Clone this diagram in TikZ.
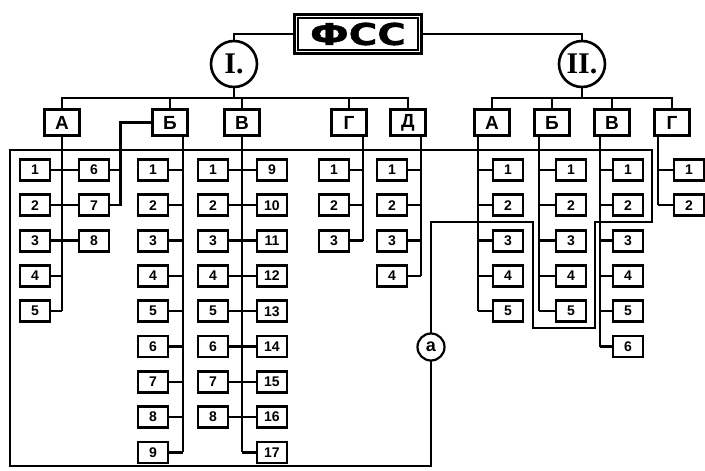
\documentclass[tikz,border=0pt]{standalone}
\usepackage{fontspec}
\setmainfont{Liberation Sans}
\newfontfamily\romfont{Liberation Serif}
\newfontfamily\headfont[FakeStretch=1.3, FakeBold=1.5]{DejaVu Sans}
\usepackage{tikz}
\usetikzlibrary{positioning}

\tikzset{
  wire/.style={line width=2.3pt},
  frame/.style={line width=2.6pt, line join=miter},
  sbox/.style={draw, line width=2.8pt, minimum width=30pt, minimum height=21pt,
               inner sep=0pt, font=\fontsize{14}{14}\selectfont\bfseries},
  lbox/.style={draw, line width=3.4pt, minimum width=35pt, minimum height=26pt,
               inner sep=0pt, font=\fontsize{19}{19}\selectfont\bfseries},
  grp/.style={draw, circle, line width=2.6pt, minimum size=46pt, inner sep=0pt,
              font=\romfont\fontsize{30}{30}\selectfont\bfseries},
}

\begin{document}
\begin{tikzpicture}[x=1pt, y=-1pt]
\useasboundingbox (0,0) rectangle (705,471);

% ================= outline of group a =================
\draw[frame] (10,150) -- (652,150) -- (652,222) -- (595,222) -- (595,328)
  -- (533,328) -- (533,222) -- (431,222) -- (431,466) -- (10,466) -- cycle;
\node[draw, circle, fill=white, line width=2.2pt, minimum size=27pt, inner sep=0pt,
      font=\fontsize{18}{18}\selectfont\bfseries] (ra) at (431,347) {а};

% ================= top =================
\node[draw, line width=2.8pt, minimum width=127pt, minimum height=39pt,
      font=\headfont\bfseries\fontsize{30}{30}\selectfont] (fss) at (358,34) {ФСС};
\draw[line width=1.4pt] ([shift={(5pt,-5pt)}]fss.north west)
  rectangle ([shift={(-5pt,5pt)}]fss.south east);
\node[grp] (I) at (234,64) {I.};
\node[grp] (II) at (582,64) {II.};
\draw[wire] (fss.west) -| (I.north);
\draw[wire] (fss.east) -| (II.north);

% ================= sections =================
\foreach \n/\x/\t in {IA/62/А, IB/170/Б, IV/242/В, IG/349/Г, ID/408/Д,
                      IIA/492/А, IIB/552/Б, IIV/612/В, IIG/672/Г}
  \node[lbox] (\n) at (\x,122.5) {\t};

\path (I.south) ++(0,10) coordinate (jI);
\draw[wire] (I.south) -- (jI);
\draw[wire] (IA.north) -- (IA.north |- jI) -- (ID.north |- jI) -- (ID.north);
\foreach \n in {IB,IV,IG}
  \draw[wire] (\n.north) -- (\n.north |- jI);

\path (II.south) ++(0,10) coordinate (jII);
\draw[wire] (II.south) -- (jII);
\draw[wire] (IIA.north) -- (IIA.north |- jII) -- (IIG.north |- jII) -- (IIG.north);
\foreach \n in {IIB,IIV}
  \draw[wire] (\n.north) -- (\n.north |- jII);

% ================= kinds of sport =================
\def\ry{35.3}
\foreach \i in {1,...,5} \node[sbox] (IA\i) at (35,{170+(\i-1)*\ry}) {\i};
\foreach \i in {6,7,8} \node[sbox] (IA\i) at (94,{170+(\i-6)*\ry}) {\i};
\foreach \i in {1,...,9} \node[sbox] (IB\i) at (153,{170+(\i-1)*\ry}) {\i};
\foreach \i in {1,...,8} \node[sbox] (IV\i) at (213,{170+(\i-1)*\ry}) {\i};
\foreach \i in {9,...,17} \node[sbox] (IV\i) at (272,{170+(\i-9)*\ry}) {\i};
\foreach \i in {1,2,3} \node[sbox] (IG\i) at (334,{170+(\i-1)*\ry}) {\i};
\foreach \i in {1,...,4} \node[sbox] (ID\i) at (392,{170+(\i-1)*\ry}) {\i};
\foreach \i in {1,...,5} \node[sbox] (IIA\i) at (508,{170+(\i-1)*\ry}) {\i};
\foreach \i in {1,...,5} \node[sbox] (IIB\i) at (571,{170+(\i-1)*\ry}) {\i};
\foreach \i in {1,...,6} \node[sbox] (IIV\i) at (628,{170+(\i-1)*\ry}) {\i};
\foreach \i in {1,2} \node[sbox] (IIG\i) at (689,{170+(\i-1)*\ry}) {\i};

% I A (6 and 7 also hang on I B)
\draw[wire] (IA.south) -- (IA.south |- IA5.east);
\foreach \l/\r in {1/6,2/7,3/8} \draw[wire] (IA\l.east) -- (IA\r.west);
\foreach \i in {4,5} \draw[wire] (IA\i.east) -- (IA\i.east -| IA.south);
\path (IA6.east) ++(10,0) coordinate (kIB);
\draw[wire] (IB.west) -| (kIB |- IA7.east) -- (IA7.east);
\draw[wire] (IA6.east) -- (kIB);

% I B
\path (IB.south) ++(13,0) coordinate (tIB);
\draw[wire] (tIB) -- (tIB |- IB9.east);
\foreach \i in {1,...,9} \draw[wire] (IB\i.east) -- (IB\i.east -| tIB);

% I V
\draw[wire] (IV.south) -- (IV.south |- IV17.west);
\foreach \l/\r in {1/9,2/10,3/11,4/12,5/13,6/14,7/15,8/16}
  \draw[wire] (IV\l.east) -- (IV\r.west);
\draw[wire] (IV17.west) -- (IV17.west -| IV.south);

% I G, I D
\path (IG.south) ++(14,0) coordinate (tIG);
\draw[wire] (tIG) -- (tIG |- IG3.east);
\foreach \i in {1,2,3} \draw[wire] (IG\i.east) -- (IG\i.east -| tIG);
\path (ID.south) ++(13,0) coordinate (tID);
\draw[wire] (tID) -- (tID |- ID4.east);
\foreach \i in {1,...,4} \draw[wire] (ID\i.east) -- (ID\i.east -| tID);

% II A, B, V, G
\foreach \n/\dx/\k in {IIA/-14/5, IIB/-13/5, IIV/-12/6, IIG/-14/2} {
  \path (\n.south) ++(\dx,0) coordinate (t\n);
  \draw[wire] (t\n) -- (t\n |- \n\k.west);
  \foreach \i in {1,...,\k} \draw[wire] (\n\i.west) -- (\n\i.west -| t\n);
}
\end{tikzpicture}
\end{document}
